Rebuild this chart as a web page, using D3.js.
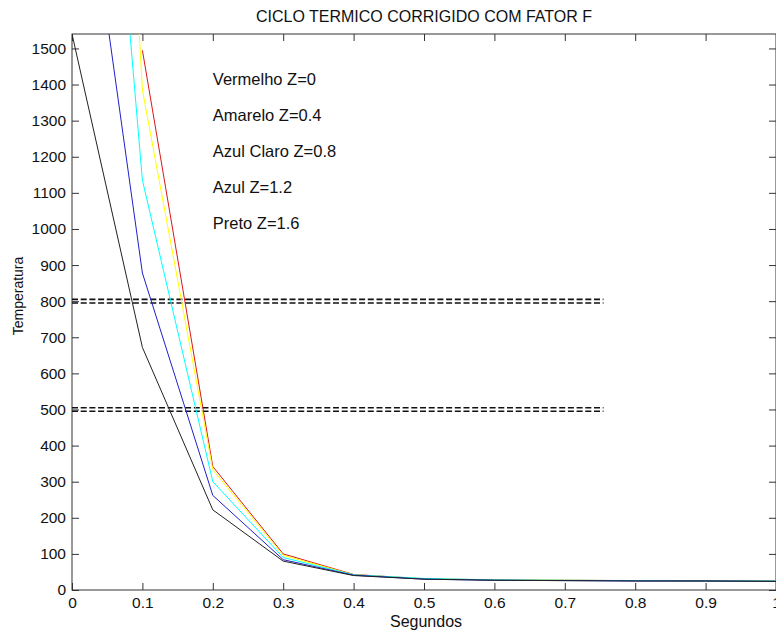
<!DOCTYPE html>
<html>
<head>
<meta charset="utf-8">
<script src="https://cdn.jsdelivr.net/npm/d3@7"></script>
<style>
  body { margin: 0; background: #fff; }
  text { font-family: "Liberation Sans", Arial, sans-serif; fill: #111; }
</style>
</head>
<body>
<div id="chart"></div>
<script>
// data
const tempo = [0, 0.1, 0.2, 0.3, 0.4, 0.5, 0.6, 0.7, 0.8, 0.9, 1.0];
const vermelho = [null, 1495, 342, 100, 43, 31, 28, 27, 26, 25, 25];
const amarelo = [4900, 1385, 333, 96, 42, 31, 28, 27, 26, 25, 25];
const azulClaro = [3435, 1135, 300, 90, 42, 32, 28, 27, 26, 25, 25];
const azul = [2275, 878, 262, 84, 41, 30, 27, 26, 25, 25, 24];
const preto = [1540, 672, 222, 80, 40, 30, 27, 26, 25, 25, 24];

const legendas = ["Vermelho Z=0", "Amarelo Z=0.4", "Azul Claro Z=0.8", "Azul Z=1.2", "Preto Z=1.6"];
const legendaY = [1400, 1300, 1200, 1100, 1000];
const limites = [805, 795, 505, 495];
const limiteFim = 0.755;

const xTicks = [0, 0.1, 0.2, 0.3, 0.4, 0.5, 0.6, 0.7, 0.8, 0.9, 1];
const yTicks = d3.range(0, 1501, 100);

// canvas
const W = 776, H = 635;
const margin = {top: 34, right: 0, bottom: 45, left: 72};
const plotW = W - margin.left - margin.right;
const plotH = H - margin.top - margin.bottom;

const svg = d3.select('#chart')
    .append('svg')
    .attr('width', W)
    .attr('height', H);

const g = svg.append('g')
    .attr('transform', `translate(${margin.left},${margin.top})`);

const x = d3.scaleLinear().domain([0, 1]).range([0, plotW]);
const y = d3.scaleLinear().domain([0, 1540]).range([plotH, 0]);

g.append('clipPath').attr('id', 'clip')
    .append('rect').attr('width', plotW).attr('height', plotH);

// axes, ticks inward like matlab
const fmt = d => d === 0 ? '0' : d === 1 ? '1' : d3.format('.1f')(d);
const axisStyle = sel => {
    sel.select('.domain').remove();
    sel.selectAll('line').attr('stroke', '#333');
    sel.selectAll('text').style('font-size', '15.5px').style('fill', '#111')
        .attr('font-family', '"Liberation Sans", Arial, sans-serif');
};

g.append('g')
    .attr('transform', `translate(0,${plotH})`)
    .call(d3.axisBottom(x).tickValues(xTicks).tickFormat(fmt).tickSizeInner(-7).tickPadding(7))
    .call(axisStyle);
g.append('g')
    .call(d3.axisTop(x).tickValues(xTicks).tickFormat('').tickSizeInner(-7))
    .call(axisStyle);
g.append('g')
    .call(d3.axisLeft(y).tickValues(yTicks).tickFormat(d3.format('d')).tickSizeInner(-7).tickPadding(6))
    .call(axisStyle);
g.append('g')
    .attr('transform', `translate(${plotW},0)`)
    .call(d3.axisRight(y).tickValues(yTicks).tickFormat('').tickSizeInner(-7))
    .call(axisStyle);

// box
g.append('rect')
    .attr('width', plotW).attr('height', plotH)
    .attr('fill', 'none').attr('stroke', '#333').attr('stroke-width', 1);

// dashed limit lines
g.selectAll('.limite')
    .data(limites)
    .join('line')
    .attr('class', 'limite')
    .attr('x1', x(0)).attr('x2', x(limiteFim))
    .attr('y1', d => y(d)).attr('y2', d => y(d))
    .attr('stroke', '#111')
    .attr('stroke-width', 1.6)
    .attr('stroke-dasharray', '6,2.7');

// temperature curves
const series = [
    {v: vermelho, c: '#d81818'},
    {v: amarelo, c: '#ffff00'},
    {v: azulClaro, c: '#00ffff'},
    {v: azul, c: '#2020c8'},
    {v: preto, c: '#222222'}
];
const line = d3.line()
    .defined(d => d[1] !== null)
    .x(d => x(d[0]))
    .y(d => y(d[1]));

g.append('g').attr('clip-path', 'url(#clip)')
    .selectAll('path')
    .data(series)
    .join('path')
    .attr('d', s => line(tempo.map((t, i) => [t, s.v[i]])))
    .attr('fill', 'none')
    .attr('stroke', s => s.c)
    .attr('stroke-width', 1);

// legend text
g.selectAll('.legenda')
    .data(legendas)
    .join('text')
    .attr('class', 'legenda')
    .attr('x', x(0.2))
    .attr('y', (d, i) => y(legendaY[i]))
    .style('font-size', '16.5px')
    .text(d => d);

// titles
svg.append('text')
    .attr('x', margin.left + plotW / 2)
    .attr('y', 22)
    .attr('text-anchor', 'middle')
    .style('font-size', '16px')
    .text('CICLO TERMICO CORRIGIDO COM FATOR F');

svg.append('text')
    .attr('x', margin.left + plotW / 2 + 2)
    .attr('y', 627)
    .attr('text-anchor', 'middle')
    .style('font-size', '16px')
    .text('Segundos');

svg.append('text')
    .attr('transform', 'translate(23,296) rotate(-90)')
    .attr('text-anchor', 'middle')
    .style('font-size', '14px')
    .text('Temperatura');
</script>
</body>
</html>
